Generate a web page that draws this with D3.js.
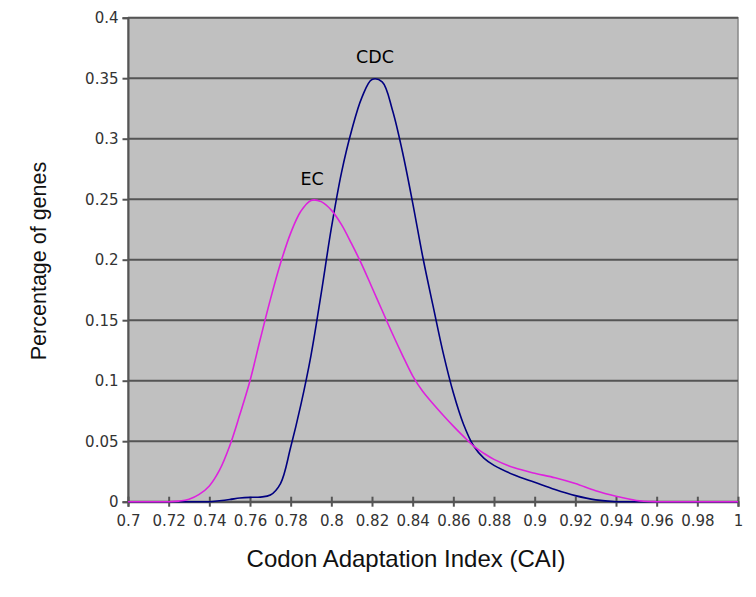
<!DOCTYPE html>
<html>
<head>
<meta charset="utf-8">
<script src="https://cdn.jsdelivr.net/npm/d3@7"></script>
<style>
  body { margin: 0; background: #fff; }
</style>
</head>
<body>
<div id="chart"></div>
<script>
// CAI values where the curves were read
var cai = [0.70, 0.71, 0.72, 0.725, 0.73, 0.735, 0.74, 0.745, 0.75, 0.755, 0.76, 0.765, 0.77, 0.775,
           0.78, 0.785, 0.79, 0.795, 0.80, 0.805, 0.81, 0.815, 0.82, 0.825, 0.83, 0.835, 0.84, 0.845,
           0.85, 0.855, 0.86, 0.865, 0.87, 0.875, 0.88, 0.89, 0.90, 0.91, 0.92, 0.93, 0.94, 0.95,
           0.96, 0.97, 0.98, 0.99, 1.00];

var ec  = [0, 0, 0, 0.0005, 0.002, 0.006, 0.013, 0.026, 0.046, 0.072, 0.100, 0.134, 0.167, 0.197,
           0.222, 0.240, 0.249, 0.248, 0.241, 0.229, 0.213, 0.196, 0.177, 0.158, 0.139, 0.121, 0.104, 0.091,
           0.081, 0.0715, 0.0625, 0.054, 0.046, 0.040, 0.035, 0.028, 0.0235, 0.0198, 0.015, 0.009, 0.0045, 0.001,
           0, 0, 0, 0, 0];

var cdc = [0, 0, 0, 0, 0, 0, 0, 0.0008, 0.0018, 0.003, 0.0036, 0.0038, 0.0055, 0.015,
           0.045, 0.080, 0.121, 0.172, 0.226, 0.272, 0.307, 0.334, 0.349, 0.347, 0.324, 0.289, 0.247, 0.202,
           0.162, 0.123, 0.090, 0.064, 0.046, 0.036, 0.030, 0.022, 0.016, 0.010, 0.005, 0.0015, 0, 0,
           0, 0, 0, 0, 0];

var xTicks = d3.range(0.70, 1.001, 0.02);
var yTicks = [0, 0.05, 0.1, 0.15, 0.2, 0.25, 0.3, 0.35, 0.4];

var seriesLabels = [
  { name: "CDC", x: 0.8215, y: 0.3625 },
  { name: "EC", x: 0.7905, y: 0.262 }
];

var W = 756, H = 597;
var margin = { top: 17.7, right: 18, bottom: 95.3, left: 128 };
var width = W - margin.left - margin.right,
    height = H - margin.top - margin.bottom;

var svg = d3.select("#chart").append("svg")
    .attr("width", W)
    .attr("height", H);

var g = svg.append("g")
    .attr("transform", "translate(" + margin.left + "," + margin.top + ")");

var x = d3.scaleLinear().domain([0.7, 1]).range([0, width]);
var y = d3.scaleLinear().domain([0, 0.4]).range([height, 0]);

var fmt = function(d){ return d3.format("")(+d.toFixed(2)); };

// plot background
g.append("rect")
    .attr("width", width)
    .attr("height", height)
    .attr("fill", "#c0c0c0")
    .attr("stroke", "#888")
    .attr("stroke-width", 1.5);

// horizontal grid lines
g.append("g")
    .selectAll("line")
    .data(yTicks)
    .enter()
    .append("line")
    .attr("x1", 0)
    .attr("x2", width)
    .attr("y1", function(d){ return y(d); })
    .attr("y2", function(d){ return y(d); })
    .attr("stroke", "#555")
    .attr("stroke-width", 2);

function styleAxis(sel){
    sel.attr("font-family", "DejaVu Sans").attr("font-size", 15);
    sel.select(".domain").attr("stroke", "#555").attr("stroke-width", 2);
    sel.selectAll(".tick line").attr("stroke", "#555").attr("stroke-width", 2);
    sel.selectAll(".tick text").attr("fill", "#333");
}

// y axis
var yAxis = g.append("g")
    .call(d3.axisLeft(y).tickValues(yTicks).tickSize(5.5).tickPadding(4).tickFormat(fmt))
    .call(styleAxis);

// x axis, ticks cross the axis line
var xAxis = g.append("g")
    .attr("transform", "translate(0," + height + ")")
    .call(d3.axisBottom(x).tickValues(xTicks).tickSize(5).tickPadding(9).tickFormat(fmt))
    .call(styleAxis);
xAxis.selectAll(".tick line").attr("y1", -5);

var line = d3.line()
    .x(function(d){ return x(d[0]); })
    .y(function(d){ return y(d[1]); })
    .curve(d3.curveCatmullRom.alpha(0.5));

g.append("path")
    .datum(d3.zip(cai, cdc))
    .attr("d", line)
    .attr("fill", "none")
    .attr("stroke", "#000080")
    .attr("stroke-width", 1.6);

g.append("path")
    .datum(d3.zip(cai, ec))
    .attr("d", line)
    .attr("fill", "none")
    .attr("stroke", "#dd22dd")
    .attr("stroke-width", 1.6);

g.selectAll(".label")
    .data(seriesLabels)
    .enter()
    .append("text")
    .attr("font-family", "DejaVu Sans")
    .attr("font-size", 17.5)
    .attr("x", function(d){ return x(d.x); })
    .attr("y", function(d){ return y(d.y); })
    .attr("text-anchor", "middle")
    .text(function(d){ return d.name; });

// axis titles
svg.append("text")
    .attr("font-family", "Liberation Sans")
    .attr("fill", "#111")
    .attr("x", 406)
    .attr("y", 567)
    .attr("font-size", 24)
    .attr("text-anchor", "middle")
    .text("Codon Adaptation Index (CAI)");

svg.append("text")
    .attr("font-family", "Liberation Sans")
    .attr("fill", "#111")
    .attr("transform", "translate(46,261) rotate(-90)")
    .attr("font-size", 21.5)
    .attr("text-anchor", "middle")
    .text("Percentage of genes");
</script>
</body>
</html>
